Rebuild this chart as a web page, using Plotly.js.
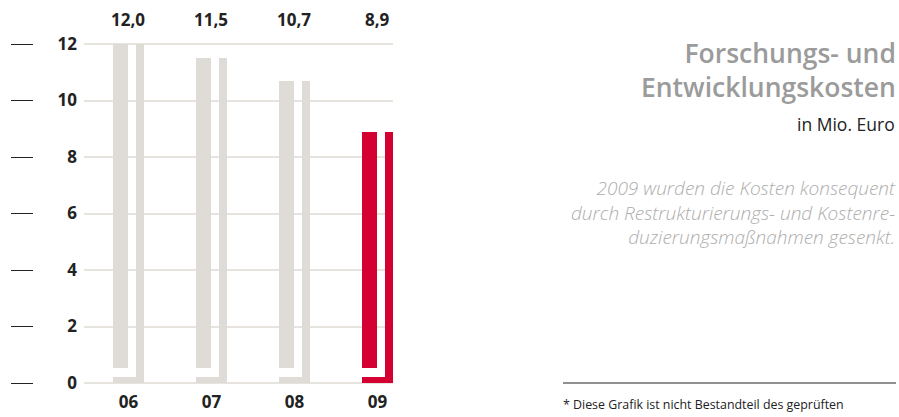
<!DOCTYPE html>
<html>
<head>
<meta charset="utf-8">
<script src="https://cdn.plot.ly/plotly-3.0.1.min.js"></script>
<style>
html,body{margin:0;padding:0;background:#fff;}
#chart{width:899px;height:417px;}
</style>
</head>
<body>
<div id="chart"></div>
<script>
// ---- data ----
var years = ['06', '07', '08', '09'];
var values = [12.0, 11.5, 10.7, 8.9];
var barColors = ['#dfdbd7', '#dfdbd7', '#dfdbd7', '#d50032'];
var yTicks = [0, 2, 4, 6, 8, 10, 12];
var titleLines = ['Forschungs- und', 'Entwicklungskosten'];
var unitText = 'in Mio. Euro';
var noteLines = ['2009 wurden die Kosten konsequent', 'durch Restrukturierungs- und Kostenre-', 'duzierungsmaßnahmen gesenkt.'];
var footnote = '* Diese Grafik ist nicht Bestandteil des geprüften';

// ---- style constants ----
var FONT = 'Open Sans, Noto Sans, sans-serif';
var mainGap = 0.53;      // gap under the main block (value units)
var footH = 0.2;         // height of the foot strip
var W = 899, H = 417, ML = 5, MR = 5, MT = 38, MB = 28;
var PW = W - ML - MR, PH = H - MT - MB;
function px(x) { return (x - ML) / PW; }
function py(y) { return (H - MB - y) / PH; }

var pos = years.map(function (d, i) { return i; });

var mainTrace = {
  type: 'bar', x: pos, y: values.map(function (v) { return v - mainGap; }),
  base: values.map(function () { return mainGap; }),
  offset: -0.187, width: 0.181,
  marker: { color: barColors, line: { width: 0 } }, hoverinfo: 'skip', showlegend: false
};
var stripTrace = {
  type: 'bar', x: pos, y: values, base: values.map(function () { return 0; }),
  offset: 0.09, width: 0.095,
  marker: { color: barColors, line: { width: 0 } }, hoverinfo: 'skip', showlegend: false
};
var footTrace = {
  type: 'bar', x: pos, y: values.map(function () { return footH; }),
  base: values.map(function () { return 0; }),
  offset: -0.187, width: 0.372,
  marker: { color: barColors, line: { width: 0 } }, hoverinfo: 'skip', showlegend: false
};
var dashTrace = {
  type: 'scatter', mode: 'none', x: pos, y: values, yaxis: 'y2',
  hoverinfo: 'skip', showlegend: false
};

var yr = [-0.2124, 12.2124];

var annotations = [];
values.forEach(function (v, i) {
  annotations.push({
    x: pos[i], xref: 'x', y: py(20), yref: 'paper', xanchor: 'center', yanchor: 'middle',
    text: v.toFixed(1).replace('.', ','), showarrow: false,
    font: { family: FONT, size: 17, color: '#222', weight: 700 }
  });
});
annotations.push({
  x: px(897), xref: 'paper', y: py(70), yref: 'paper', xanchor: 'right', yanchor: 'middle',
  align: 'right', borderpad: 0,
  text: titleLines.join('<br>'), showarrow: false,
  font: { family: FONT, size: 26.5, color: '#9b9b9b', weight: 600 }
});
annotations.push({
  x: px(897), xref: 'paper', y: py(124), yref: 'paper', xanchor: 'right', yanchor: 'middle',
  text: unitText, showarrow: false, font: { family: FONT, size: 17.5, color: '#222' }
});
annotations.push({
  x: px(897), xref: 'paper', y: py(212.5), yref: 'paper', xanchor: 'right', yanchor: 'middle',
  align: 'right', borderpad: 0,
  text: noteLines.map(function (t) { return '<i>' + t + '</i>'; }).join('<br>'), showarrow: false,
  font: { family: FONT, size: 19, color: '#adadad', weight: 300 }
});
annotations.push({
  x: px(561), xref: 'paper', y: py(404), yref: 'paper', xanchor: 'left', yanchor: 'middle',
  text: footnote, showarrow: false, font: { family: FONT, size: 12.4, color: '#222' }
});

var layout = {
  width: W, height: H,
  margin: { l: ML, r: MR, t: MT, b: MB, pad: 0 },
  paper_bgcolor: '#fff', plot_bgcolor: '#fff',
  barmode: 'overlay', bargap: 0,
  showlegend: false,
  xaxis: {
    domain: [px(84), px(393)], range: [-0.536, 3.187],
    tickvals: pos, ticktext: years, ticks: '', showgrid: false, zeroline: false, showline: false,
    tickfont: { family: FONT, size: 17, color: '#222', weight: 700 },
    ticklabelstandoff: 1, fixedrange: true
  },
  yaxis: {
    range: yr, tickvals: yTicks, ticktext: yTicks.map(String), ticks: '',
    showgrid: true, gridcolor: '#e7e3df', gridwidth: 2,
    zeroline: true, zerolinecolor: '#e7e3df', zerolinewidth: 2, showline: false,
    tickfont: { family: FONT, size: 17, color: '#222', weight: 700 },
    ticklabelstandoff: 6, fixedrange: true
  },
  yaxis2: {
    overlaying: 'y', anchor: 'free', position: px(33), side: 'left',
    range: yr, tickvals: yTicks, ticks: 'outside', ticklen: 22, tickwidth: 1, tickcolor: '#222',
    showticklabels: false, showgrid: false, zeroline: false, showline: false, fixedrange: true
  },
  shapes: [{
    type: 'line', xref: 'paper', yref: 'paper', x0: px(563), x1: px(896), y0: py(383), y1: py(383),
    line: { color: '#222', width: 1 }
  }],
  annotations: annotations
};

Plotly.newPlot('chart', [footTrace, mainTrace, stripTrace, dashTrace], layout, { displayModeBar: false, staticPlot: true });
</script>
</body>
</html>
